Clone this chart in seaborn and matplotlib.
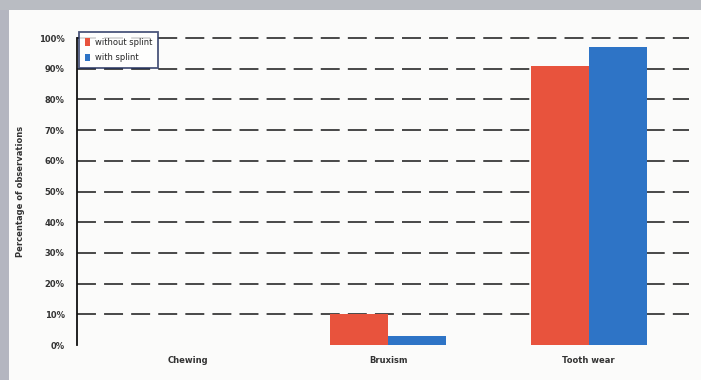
import matplotlib
matplotlib.use("Agg")
import matplotlib.pyplot as plt
import matplotlib.patches as mpatches
import seaborn as sns
import pandas as pd

categories = ["Chewing", "Bruxism", "Tooth wear"]
without_splint = [0, 10, 91]
with_splint = [0, 3, 97]
series_names = ["without splint", "with splint"]
y_ticks = [0, 10, 20, 30, 40, 50, 60, 70, 80, 90, 100]
y_tick_labels = [f"{t}%" for t in y_ticks]
y_label = "Percentage of observations"

df = pd.DataFrame({
    "category": categories * 2,
    "value": without_splint + with_splint,
    "series": [series_names[0]] * 3 + [series_names[1]] * 3,
})

sns.set_theme(style="white")
plt.rcParams["font.family"] = ["DejaVu Sans"]

fig = plt.figure(figsize=(7.01, 3.80), dpi=100, facecolor="#fbfbfa")
# grey photo edge on the left and top
fig.patches.append(mpatches.Rectangle((0, 0), 0.013, 1, transform=fig.transFigure,
                                      facecolor="#b4b6c0", edgecolor="none", zorder=0))
fig.patches.append(mpatches.Rectangle((0, 0.975), 1, 0.025, transform=fig.transFigure,
                                      facecolor="#b9bcc2", edgecolor="none", zorder=0))

ax = fig.add_axes([0.110, 0.092, 0.873, 0.808])
ax.set_facecolor("none")

palette = {series_names[0]: "#e8533d", series_names[1]: "#2e74c6"}
sns.barplot(data=df, x="category", y="value", hue="series", palette=palette,
            width=0.58, saturation=1, linewidth=0, ax=ax, zorder=3)

ax.set_ylim(0, 100)
ax.set_xlim(-0.55, 2.5)
ax.set_yticks(y_ticks)
ax.set_yticklabels(y_tick_labels, fontsize=6, fontweight="bold", color="#333333")
ax.tick_params(axis="x", labelsize=6, colors="#333333", length=0, pad=8)
for lbl in ax.get_xticklabels():
    lbl.set_fontweight("bold")
ax.tick_params(axis="y", length=3, width=0.8, color="#222222", pad=6)
ax.set_xlabel("")
ax.set_ylabel(y_label, fontsize=6, fontweight="bold", color="#333333", labelpad=10)

for t in y_ticks[1:]:
    ax.axhline(t, color="#3a3a3a", lw=1.3, ls=(0, (10.5, 4.5)), zorder=1, clip_on=False)

for side in ["top", "right", "bottom"]:
    ax.spines[side].set_visible(False)
ax.spines["left"].set_color("#111111")
ax.spines["left"].set_linewidth(1.3)

leg = ax.legend(loc="upper left", bbox_to_anchor=(0.0, 1.025), fontsize=6,
                frameon=True, fancybox=False, handlelength=0.6, handleheight=1.0,
                handletextpad=0.6, borderpad=0.7, labelspacing=0.8, borderaxespad=0.2)
leg.get_frame().set_edgecolor("#1d2b5a")
leg.get_frame().set_linewidth(1.3)
leg.get_frame().set_facecolor("white")
leg.set_zorder(5)

fig.savefig("out.png", dpi=100, facecolor=fig.get_facecolor())
